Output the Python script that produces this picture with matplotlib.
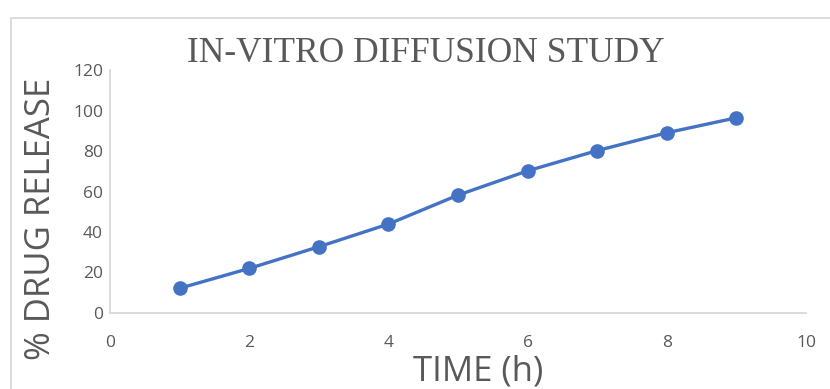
import matplotlib.pyplot as plt
from matplotlib.patches import Rectangle

time_h = [1, 2, 3, 4, 5, 6, 7, 8, 9]
drug_release = [12.2, 22.0, 32.7, 43.9, 58.2, 70.2, 80.2, 89.0, 96.4]

x_ticks = [0, 2, 4, 6, 8, 10]
y_ticks = [0, 20, 40, 60, 80, 100, 120]

BLUE = "#4472C4"
GRAY_TXT = "#595959"
GRAY_LINE = "#d9d9d9"
SANS = ["Open Sans", "DejaVu Sans"]

fig = plt.figure(figsize=(8.3, 3.89), dpi=100)
ax = fig.add_axes([0.1325, 0.1954, 0.8385, 0.6246])

ax.plot(time_h, drug_release, color=BLUE, linewidth=2.4,
        marker="o", markersize=9.5, markerfacecolor=BLUE, markeredgecolor=BLUE)

ax.set_xlim(0, 10)
ax.set_ylim(0, 120)
ax.set_xticks(x_ticks)
ax.set_yticks(y_ticks)

for side in ("top", "right"):
    ax.spines[side].set_visible(False)
for side in ("left", "bottom"):
    ax.spines[side].set_color(GRAY_LINE)
    ax.spines[side].set_linewidth(1.3)

ax.tick_params(axis="both", length=0, labelcolor=GRAY_TXT, labelsize=12.5)
ax.tick_params(axis="x", pad=16)
ax.tick_params(axis="y", pad=5)
for lab in ax.get_xticklabels() + ax.get_yticklabels():
    lab.set_family(SANS)

fig.text(0.513, 0.862, "IN-VITRO DIFFUSION STUDY", ha="center", va="center",
         fontsize=25.5, color=GRAY_TXT, family="Liberation Serif")
fig.text(0.049, 0.437, "% DRUG RELEASE", ha="center", va="center", rotation=90,
         fontsize=25, color=GRAY_TXT, family=SANS)
fig.text(0.576, 0.045, "TIME (h)", ha="center", va="center",
         fontsize=25, color=GRAY_TXT, family=SANS)

# chart area border
fig.patches.append(Rectangle((11 / 830, -0.05), 1.0, 1 - 18 / 389 + 0.05,
                             transform=fig.transFigure, fill=False,
                             edgecolor=GRAY_LINE, linewidth=1.3))

fig.savefig("out.png", dpi=100)
plt.close(fig)
